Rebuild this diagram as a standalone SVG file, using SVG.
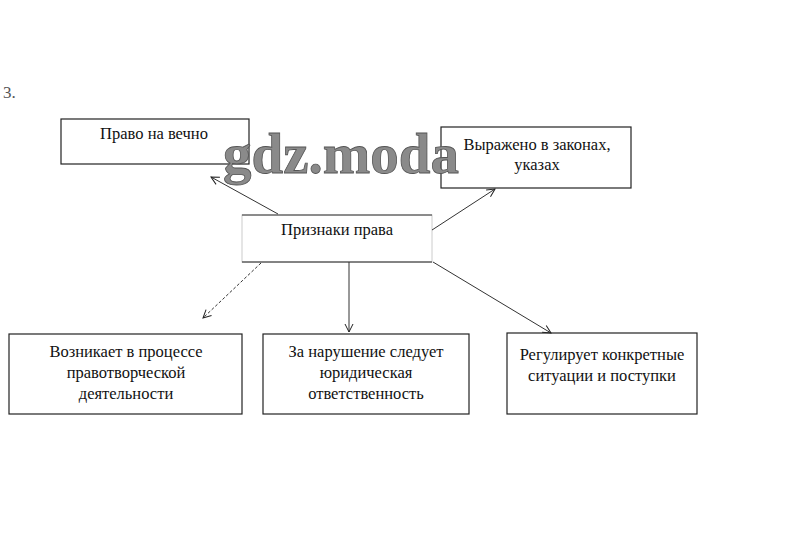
<svg xmlns="http://www.w3.org/2000/svg" width="812" height="559" viewBox="0 0 812 559">
<defs>
<marker id="ah" markerWidth="10" markerHeight="10" refX="9" refY="5" orient="auto" markerUnits="userSpaceOnUse">
<path d="M1,1 L9,5 L1,9" fill="none" stroke="#222" stroke-width="1"/>
</marker>
<style>
.box{fill:#fff;stroke:#222;stroke-width:1.2}
.t{font-family:"Liberation Serif","Times New Roman",serif;font-size:16.5px;fill:#111;text-anchor:middle}
.c{stroke:#333;stroke-width:1;fill:none;marker-end:url(#ah)}
</style>
</defs>
<rect width="812" height="559" fill="#fff"/>
<text x="3" y="98" font-family="Liberation Serif, serif" font-size="17" fill="#555">3.</text>
<g id="n1">
<rect class="box" x="61" y="119" width="188" height="45"/>
<text class="t" x="154" y="139">Право на вечно</text>
</g>
<g id="n2">
<rect class="box" x="441" y="127" width="190" height="61"/>
<text class="t" x="537" y="150">Выражено в законах,</text>
<text class="t" x="537" y="170">указах</text>
</g>
<g id="center">
<rect x="242" y="215" width="190" height="47" fill="#fff" stroke="#ccc" stroke-width="1"/>
<line x1="242" y1="215" x2="432" y2="215" stroke="#333" stroke-width="1"/>
<line x1="242" y1="262" x2="432" y2="262" stroke="#222" stroke-width="1.2"/>
<text class="t" x="337" y="235">Признаки права</text>
</g>
<g id="n3">
<rect class="box" x="9" y="334" width="233" height="80"/>
<text class="t" x="126" y="357">Возникает в процессе</text>
<text class="t" x="126" y="378">правотворческой</text>
<text class="t" x="126" y="399">деятельности</text>
</g>
<g id="n4">
<rect class="box" x="263" y="334" width="206" height="80"/>
<text class="t" x="366" y="357">За нарушение следует</text>
<text class="t" x="366" y="378">юридическая</text>
<text class="t" x="366" y="399">ответственность</text>
</g>
<g id="n5">
<rect class="box" x="507" y="333" width="190" height="81"/>
<text class="t" x="602" y="360">Регулирует конкретные</text>
<text class="t" x="602" y="381">ситуации и поступки</text>
</g>
<g id="connectors">
<line class="c" x1="278" y1="214" x2="211" y2="177"/>
<line class="c" x1="432" y1="230" x2="495" y2="189"/>
<line class="c" x1="261" y1="263" x2="203" y2="318" stroke-dasharray="3,2"/>
<line class="c" x1="349" y1="262" x2="349" y2="332"/>
<line class="c" x1="433" y1="262" x2="551" y2="333"/>
</g>
<text x="341" y="173" font-family="Liberation Serif, serif" font-weight="bold" font-size="57" text-anchor="middle" fill="#8a8a8a" stroke="#555" stroke-width="0.8">gdz.moda</text>
</svg>
